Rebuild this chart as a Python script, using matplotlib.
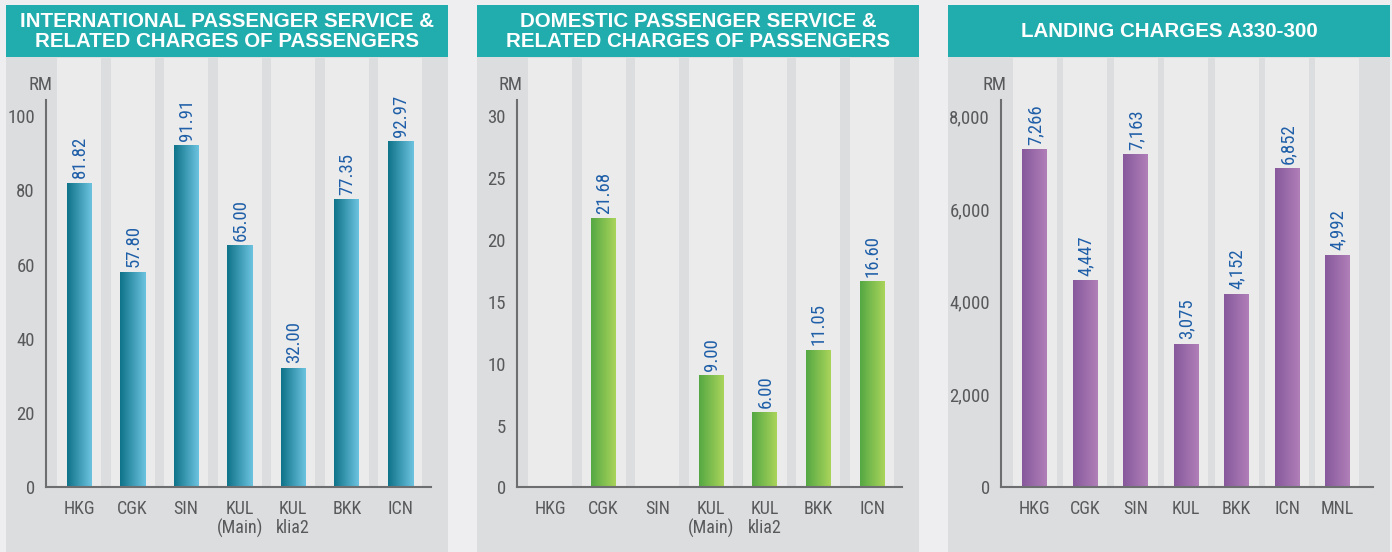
import numpy as np
import matplotlib
matplotlib.use("Agg")
import matplotlib.pyplot as plt
from matplotlib import font_manager
from matplotlib.colors import LinearSegmentedColormap
from matplotlib.patches import Rectangle
from matplotlib.transforms import ScaledTranslation

# ---------------- data ----------------
intl_cats = ["HKG", "CGK", "SIN", "KUL\n(Main)", "KUL\nklia2", "BKK", "ICN"]
intl_vals = [81.82, 57.80, 91.91, 65.00, 32.00, 77.35, 92.97]
intl_ticks = [0, 20, 40, 60, 80, 100]

dom_cats = ["HKG", "CGK", "SIN", "KUL\n(Main)", "KUL\nklia2", "BKK", "ICN"]
dom_vals = [np.nan, 21.68, np.nan, 9.00, 6.00, 11.05, 16.60]
dom_ticks = [0, 5, 10, 15, 20, 25, 30]

land_cats = ["HKG", "CGK", "SIN", "KUL", "BKK", "ICN", "MNL"]
land_vals = [7266, 4447, 7163, 3075, 4152, 6852, 4992]
land_ticks = [0, 2000, 4000, 6000, 8000]

titles = ["INTERNATIONAL PASSENGER SERVICE &\nRELATED CHARGES OF PASSENGERS",
          "DOMESTIC PASSENGER SERVICE &\nRELATED CHARGES OF PASSENGERS",
          "LANDING CHARGES A330-300"]
unit = "RM"

# ---------------- fonts ----------------
_names = {f.name for f in font_manager.fontManager.ttflist}
NARROW = "Liberation Sans"
for cand in ["Roboto Condensed", "Archivo Narrow", "PT Sans Narrow", "Liberation Sans Narrow",
             "Arial Narrow", "Fira Sans Condensed", "IBM Plex Sans Condensed", "Encode Sans Condensed"]:
    if cand in _names:
        NARROW = cand
        break
BOLD = "Liberation Sans"
plt.rcParams["font.family"] = [NARROW, "DejaVu Sans"]

# ---------------- style ----------------
W, H = 1392, 552
FIG_BG = "#eeeef0"
PANEL_BG = "#dcdddf"
COL_BG = "#ebebeb"
BANNER = "#21adad"
AXIS_C = "#6d6e70"
TICK_C = "#58595b"
VAL_C = "#1f5fa8"

grads = [("#0f7389", "#6cc3e0"), ("#55a844", "#aad45a"), ("#87599c", "#b07fb8")]

layouts = [
    dict(x0=6, x1=448, ax=46, c0=79.0, per=53.55, end=431, bar=25.0, col=22.0),
    dict(x0=477, x1=919, ax=517, c0=550.0, per=53.67, end=902, bar=25.0, col=22.0),
    dict(x0=948, x1=1390, ax=1001, c0=1034.7, per=50.45, end=1373, bar=24.7, col=22.0),
]
Y_TOP, Y_ZERO, Y_MAXTICK, Y_SPINE = 58, 487, 115.5, 100

fig = plt.figure(figsize=(W / 100, H / 100), dpi=100)
fig.patch.set_facecolor(FIG_BG)


def fx(x):
    return x / W


def fy(y):
    return 1 - y / H


# background axes for banners and panels
bg = fig.add_axes([0, 0, 1, 1], zorder=0)
bg.set_xlim(0, W)
bg.set_ylim(H, 0)
bg.axis("off")

panels = [
    (intl_cats, intl_vals, intl_ticks, "{:.2f}", lambda t: f"{t:d}"),
    (dom_cats, dom_vals, dom_ticks, "{:.2f}", lambda t: f"{t:d}"),
    (land_cats, land_vals, land_ticks, "{:,.0f}", lambda t: f"{t:,d}"),
]

down = ScaledTranslation(0, -2.5 / 100, fig.dpi_scale_trans)

for k, ((cats, vals, ticks, vfmt, tfmt), L, title) in enumerate(zip(panels, layouts, titles)):
    bg.add_patch(Rectangle((L["x0"], 5), L["x1"] - L["x0"], 52, facecolor=BANNER, edgecolor="none"))
    bg.add_patch(Rectangle((L["x0"], 57), L["x1"] - L["x0"], H - 57, facecolor=PANEL_BG, edgecolor="none"))
    bg.text((L["x0"] + L["x1"]) / 2, 31.5, title, ha="center", va="center",
            color="white", fontsize=14.8, fontweight="bold", family=BOLD, linespacing=1.08)

    ax = fig.add_axes([fx(L["ax"]), fy(Y_ZERO), fx(L["x1"] - L["ax"]), (Y_ZERO - Y_TOP) / H], zorder=2)
    ax.patch.set_visible(False)
    ymax_tick = ticks[-1]
    pxu = (Y_ZERO - Y_MAXTICK) / ymax_tick
    ytop = (Y_ZERO - Y_TOP) / pxu
    xl = (L["ax"] - L["c0"]) / L["per"]
    xr = (L["x1"] - L["c0"]) / L["per"]
    xend = (L["end"] - L["c0"]) / L["per"]
    hw = L["col"] / L["per"]
    bw = L["bar"] / L["per"]

    n = len(cats)
    x = np.arange(n)
    for i in x:
        ax.axvspan(i - hw, i + hw, ymin=0, ymax=1, facecolor=COL_BG, edgecolor="none", zorder=0)

    cmap = LinearSegmentedColormap.from_list(f"g{k}", grads[k])
    grad = np.linspace(0, 1, 64).reshape(1, -1)
    for i, v in zip(x, vals):
        if np.isnan(v):
            continue
        ax.imshow(grad, extent=[i - bw / 2, i + bw / 2, 0, v], aspect="auto", cmap=cmap,
                  interpolation="bicubic", zorder=2)
        ax.annotate(vfmt.format(v), (i, v), xytext=(0.5, 3.5), textcoords="offset points",
                    rotation=90, ha="center", va="bottom", color=VAL_C, fontsize=13.5)

    ax.set_xlim(xl, xr)
    ax.set_ylim(0, ytop)
    ax.set_xticks(x)
    ax.set_xticklabels(cats, linespacing=1.1)
    ax.set_yticks(ticks)
    ax.set_yticklabels([tfmt(t) for t in ticks])
    ax.tick_params(axis="both", length=0, colors=TICK_C)
    ax.tick_params(axis="y", pad=8, labelsize=13.5)
    ax.tick_params(axis="x", pad=9, labelsize=13)
    for lab in ax.get_yticklabels():
        lab.set_verticalalignment("center")
        lab.set_transform(lab.get_transform() + down)
    for s in ["top", "right"]:
        ax.spines[s].set_visible(False)
    for s in ["left", "bottom"]:
        ax.spines[s].set_color(AXIS_C)
        ax.spines[s].set_linewidth(1.5)
        ax.spines[s].set_zorder(3)
    ax.spines["left"].set_bounds(0, (Y_ZERO - Y_SPINE) / pxu)
    ax.spines["bottom"].set_bounds(xl, xend)

    bg.text(L["ax"] + 6, 85, unit, ha="right", va="center", color=TICK_C, fontsize=13.5, family=NARROW)

fig.savefig("out.png", dpi=100, facecolor=FIG_BG)
